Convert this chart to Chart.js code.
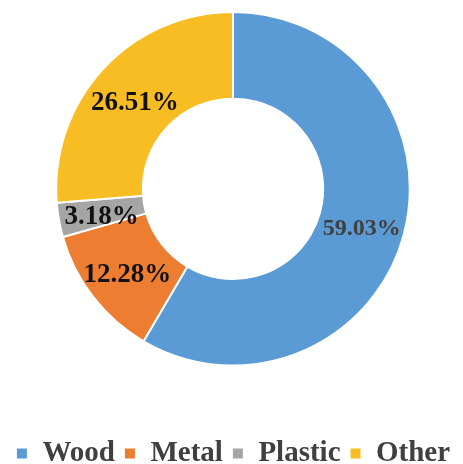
<!DOCTYPE html>
<html>
<head>
<meta charset="utf-8">
<script src="https://cdn.jsdelivr.net/npm/chart.js@4"></script>
<style>
	html, body { margin: 0; padding: 0; background: #fff; }
</style>
</head>
<body>
<canvas id="material-chart" width="463" height="464"></canvas>
<script>
const materials = ["Wood", "Metal", "Plastic", "Other"];
const shares = [59.03, 12.28, 3.18, 26.51];
const sliceColors = ["#5B9BD5", "#ED7D31", "#A5A5A5", "#F8BD22"];
const labelColors = ["#404040", "#111111", "#111111", "#111111"];

// draws the percentage text in the middle of each slice
const sliceLabels = {
	id: "sliceLabels",
	afterDatasetsDraw(chart) {
		const ctx = chart.ctx;
		const meta = chart.getDatasetMeta(0);
		ctx.save();
		ctx.textAlign = "center";
		ctx.textBaseline = "middle";
		meta.data.forEach((arc, i) => {
			const pos = arc.tooltipPosition();
			ctx.font = (i == 0 ? "bold 24px" : "bold 27px") + " 'Liberation Serif', 'Times New Roman', serif";
			ctx.fillStyle = labelColors[i];
			ctx.fillText(shares[i].toFixed(2) + "%", pos.x, pos.y + 5);
		});
		ctx.restore();
	},
};

new Chart(document.getElementById("material-chart"), {
	type: "doughnut",
	data: {
		labels: materials,
		datasets: [
			{
				data: shares,
				backgroundColor: sliceColors,
				borderColor: "#fff",
				borderWidth: 2,
			},
		],
	},
	options: {
		responsive: false,
		animation: false,
		cutout: "51%",
		layout: {
			padding: { top: 11, bottom: -14, left: 3, right: 0 },
		},
		plugins: {
			tooltip: { enabled: false },
			legend: {
				position: "bottom",
				title: {
					display: true,
					text: "",
					padding: { top: 49, bottom: 0 },
				},
				labels: {
					boxWidth: 12,
					boxHeight: 12,
					padding: 9,
					color: "#404040",
					font: {
						family: "'Liberation Serif', 'Times New Roman', serif",
						size: 29,
						weight: "bold",
					},
				},
			},
		},
	},
	plugins: [sliceLabels],
});
</script>
</body>
</html>
